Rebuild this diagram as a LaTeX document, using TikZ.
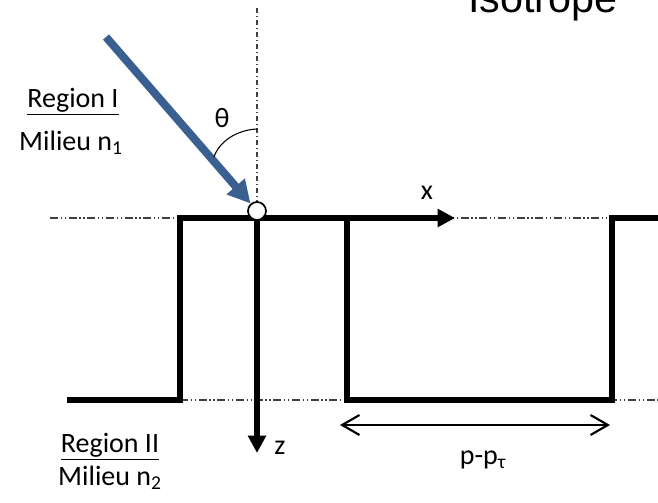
\documentclass[tikz,border=0pt]{standalone}
\usepackage{fontspec}
\setmainfont{Carlito}
\newfontfamily\arialfont{Liberation Sans}
\usetikzlibrary{arrows.meta}
\definecolor{incblue}{RGB}{58,95,145}

\begin{document}
\begin{tikzpicture}[
  x=0.75pt,y=-0.75pt,
  txt/.style={font=\fontsize{21}{25}\selectfont, inner sep=0pt},
  guide/.style={line width=0.8pt, draw=black!75, dash pattern=on 6pt off 2pt on 1pt off 2pt on 1pt off 2pt},
  profile/.style={line width=4.2pt, line join=miter},
  axisline/.style={line width=4.2pt, -{Triangle[length=13pt,width=13pt]}},
  incident/.style={line width=6pt, draw=incblue, -{Triangle[length=17pt,width=17pt,fill=incblue]}},
  dimline/.style={line width=1.6pt, {Straight Barb[length=13pt,width=15pt]}-{Straight Barb[length=13pt,width=15pt]}}
]
\useasboundingbox (0,0) rectangle (658,503);

% reference points
\coordinate (O) at (257,218);
\coordinate (topv) at (257,8);
\coordinate (xend) at (455,218);
\coordinate (zend) at (257,453);
\coordinate (src) at (106,37);

% guide lines
\draw[guide] (50,218) -- (658,218);
\draw[guide] (180,400) -- (658,400);

% grating profile
\draw[profile] (67,400) -- (180,400) -- (180,218) -- (347,218) -- (347,400)
  -- (612,400) -- (612,218) -- (658,218);

% axes
\draw[axisline] (O) -- (xend);
\draw[axisline] (O) -- (zend);

\node[circle, draw, fill=white, line width=1.3pt, minimum size=13.5pt, inner sep=0pt] (hole) at (257,211) {};
\draw[guide, dash pattern=on 4pt off 2pt on 1pt off 2pt] (topv) -- (hole.north);

% incident wave and angle
\draw[incident] (src) -- (hole);
\draw[line width=0.8pt] (257,129) .. controls (236,130) and (219,142) .. (214,157);

% period
\coordinate (pl) at (340,425);
\coordinate (pr) at (610,425);
\draw[dimline] (pl) -- (pr);

% texts
\node[font=\arialfont\fontsize{31}{36}\selectfont, inner sep=0pt, anchor=base west] (iso) at (468,13) {Isotrope};
\node[txt] (regI) at (73,102) {\underline{Region I}};
\node[txt] (milI) at (71,143) {Milieu n\textsubscript{1}};
\node[txt] (theta) at (222,118) {θ};
\node[txt] (xlab) at (427,193) {x};
\node[txt] (zlab) at (280,448) {z};
\node[txt] (regII) at (110,447) {\underline{Region II}};
\node[txt] (milII) at (110,478) {Milieu n\textsubscript{2}};
\node[txt] (pdiff) at (483,460) {p-p\textsubscript{τ}};
\end{tikzpicture}
\end{document}
